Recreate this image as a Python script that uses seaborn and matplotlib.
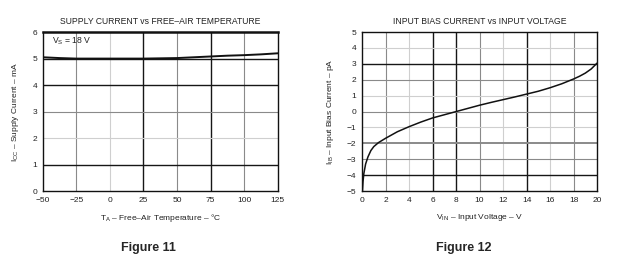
import numpy as np
import pandas as pd
import matplotlib
matplotlib.use("Agg")
import matplotlib.pyplot as plt
import seaborn as sns

# ---- data ----
temp_c = [-50, -37.5, -25, 0, 25, 37.5, 50, 62.5, 75, 87.5, 100, 112.5, 125]
supply_ma = [5.05, 5.02, 5.00, 5.00, 5.00, 5.01, 5.02, 5.05, 5.08, 5.11, 5.13, 5.16, 5.20]

vin_v = [0.03, 0.08, 0.15, 0.3, 0.5, 0.75, 1.0, 1.4, 2, 3, 4, 5, 6, 7, 8, 9, 10, 11, 12,
         13, 14, 15, 16, 17, 18, 18.5, 19, 19.5, 20]
bias_pa = [-5.0, -4.4, -3.9, -3.3, -2.85, -2.45, -2.2, -1.95, -1.68, -1.27, -0.95, -0.66,
           -0.4, -0.2, 0.0, 0.2, 0.4, 0.58, 0.75, 0.92, 1.1, 1.28, 1.5, 1.75, 2.05,
           2.22, 2.42, 2.68, 3.05]

left_xticks = [-50, -25, 0, 25, 50, 75, 100, 125]
left_yticks = [0, 1, 2, 3, 4, 5, 6]
right_xticks = list(range(0, 21, 2))
right_yticks = list(range(-5, 6))

sns.set_theme(style="white")
plt.rcParams['font.family'] = ['Liberation Sans', 'DejaVu Sans']
plt.rcParams['mathtext.fontset'] = 'custom'
plt.rcParams['mathtext.rm'] = 'Liberation Sans'
plt.rcParams['mathtext.it'] = 'Liberation Sans'

fig = plt.figure(figsize=(6.2, 2.61), dpi=100)
ax1 = fig.add_axes([0.069, 0.268, 0.379, 0.609])
ax2 = fig.add_axes([0.584, 0.268, 0.379, 0.609])

df1 = pd.DataFrame({"T": temp_c, "I": supply_ma})
df2 = pd.DataFrame({"V": vin_v, "I": bias_pa})

# grid line shades (style): D dark, M medium, L light
SHADE = {"D": ("#161616", 1.0), "M": ("#8a8a8a", 0.8), "L": ("#cfcfcf", 0.8), "T": ("#8a8a8a", 1.4)}

def grid(ax, xs, ys):
    for x, s in xs:
        c, w = SHADE[s]
        ax.axvline(x, color=c, lw=w, zorder=1)
    for y, s in ys:
        c, w = SHADE[s]
        ax.axhline(y, color=c, lw=w, zorder=1)

grid(ax1,
     [(-25, "M"), (0, "L"), (25, "D"), (50, "M"), (75, "D"), (100, "M")],
     [(1, "D"), (2, "L"), (3, "M"), (4, "D"), (5, "D")])
grid(ax2,
     [(2, "M"), (4, "L"), (6, "D"), (8, "D"), (10, "M"), (12, "L"), (14, "D"), (16, "L"), (18, "M")],
     [(-4, "D"), (-3, "M"), (-2, "T"), (-1, "L"), (0, "M"), (1, "L"), (2, "M"), (3, "D"), (4, "L")])

sns.lineplot(data=df1, x="T", y="I", ax=ax1, color="#111111", lw=1.4, zorder=3)
sns.lineplot(data=df2, x="V", y="I", ax=ax2, color="#111111", lw=1.1, zorder=3)

ax1.set_xlim(-50, 125); ax1.set_ylim(0, 6)
ax2.set_xlim(0, 20); ax2.set_ylim(-5, 5)
ax1.set_xticks(left_xticks); ax1.set_yticks(left_yticks)
ax2.set_xticks(right_xticks); ax2.set_yticks(right_yticks)
ax1.set_xticklabels([f"{v}".replace("-", "\u2212") for v in left_xticks])
ax2.set_yticklabels([f"{v}".replace("-", "\u2212") for v in right_yticks])

for ax in (ax1, ax2):
    ax.tick_params(labelsize=6, length=0, pad=4, colors="#222222")
    for s in ax.spines.values():
        s.set_color("#111111"); s.set_linewidth(1.0)
ax1.spines["top"].set_linewidth(1.8)

ax1.set_xlabel("T$_\\mathregular{A}$ \u2013 Free\u2013Air Temperature \u2013 \u00b0C", fontsize=6, color="#222222", labelpad=6)
ax1.set_ylabel("I$_\\mathregular{CC}$ \u2013 Supply Current \u2013 mA", fontsize=6, color="#222222", labelpad=8)
ax2.set_xlabel("V$_\\mathregular{IN}$ \u2013 Input Voltage \u2013 V", fontsize=6, color="#222222", labelpad=6)
ax2.set_ylabel("I$_\\mathregular{IB}$ \u2013 Input Bias Current \u2013 pA", fontsize=6, color="#222222", labelpad=8)

ax1.set_title("SUPPLY CURRENT vs FREE\u2013AIR TEMPERATURE", fontsize=6.2, color="#222222", pad=6)
ax2.set_title("INPUT BIAS CURRENT vs INPUT VOLTAGE", fontsize=6.2, color="#222222", pad=6)

ax1.text(-43, 5.65, "V$_\\mathregular{S}$ = 18 V", fontsize=6.2, color="#222222", va="center", ha="left", zorder=4)

fig.text(0.239, 0.05, "Figure 11", fontsize=9, fontweight="bold", ha="center", va="center")
fig.text(0.748, 0.05, "Figure 12", fontsize=9, fontweight="bold", ha="center", va="center")

fig.savefig("out.png", dpi=100)
